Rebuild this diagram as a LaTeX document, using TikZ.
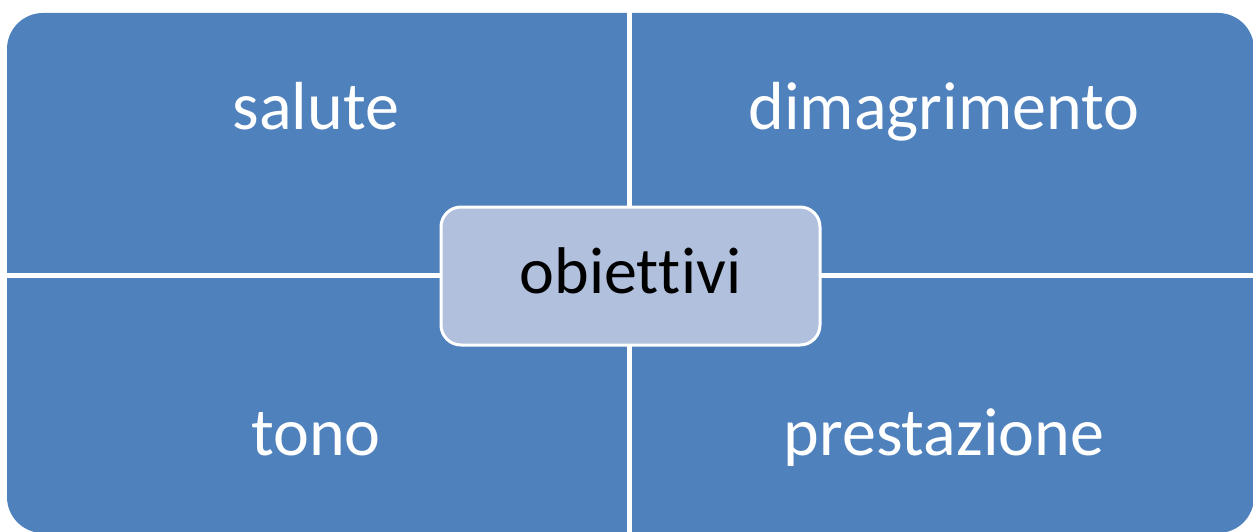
\documentclass[tikz,border=0pt]{standalone}
\usepackage{fontspec}
\setmainfont{Carlito}[Ligatures={NoCommon}]
\definecolor{quadblue}{HTML}{4F81BD}
\definecolor{hubfill}{HTML}{B1C1DD}
\begin{document}
\begin{tikzpicture}[x=1pt,y=-1pt,
  quadlabel/.style={text=white,font=\fontsize{68}{80}\selectfont,anchor=base,inner sep=0pt},
  hub/.style={draw=white,line width=3pt,fill=hubfill,rounded corners=20pt,
    minimum width=379pt,minimum height=138pt,inner sep=0pt,
    text height=34pt,text depth=0pt,text=black,font=\fontsize{66}{78}\selectfont},
  gap/.style={fill=white}]
\useasboundingbox (0,0) rectangle (1253,532);
\fill[quadblue,rounded corners=36pt] (7,13) rectangle (1254,533);
\fill[gap] (627,0) rectangle (632,532);
\fill[gap] (0,273) rectangle (1253,278);
\node[quadlabel] (salute) at (316,130) {salute};
\node[quadlabel] (dimagrimento) at (944,130) {dimagrimento};
\node[quadlabel] (tono) at (316,455) {tono};
\node[quadlabel] (prestazione) at (944,455) {prestazione};
\node[hub] (obiettivi) at (630.5,276) {obiet\kern0pt tivi};
\end{tikzpicture}
\end{document}
